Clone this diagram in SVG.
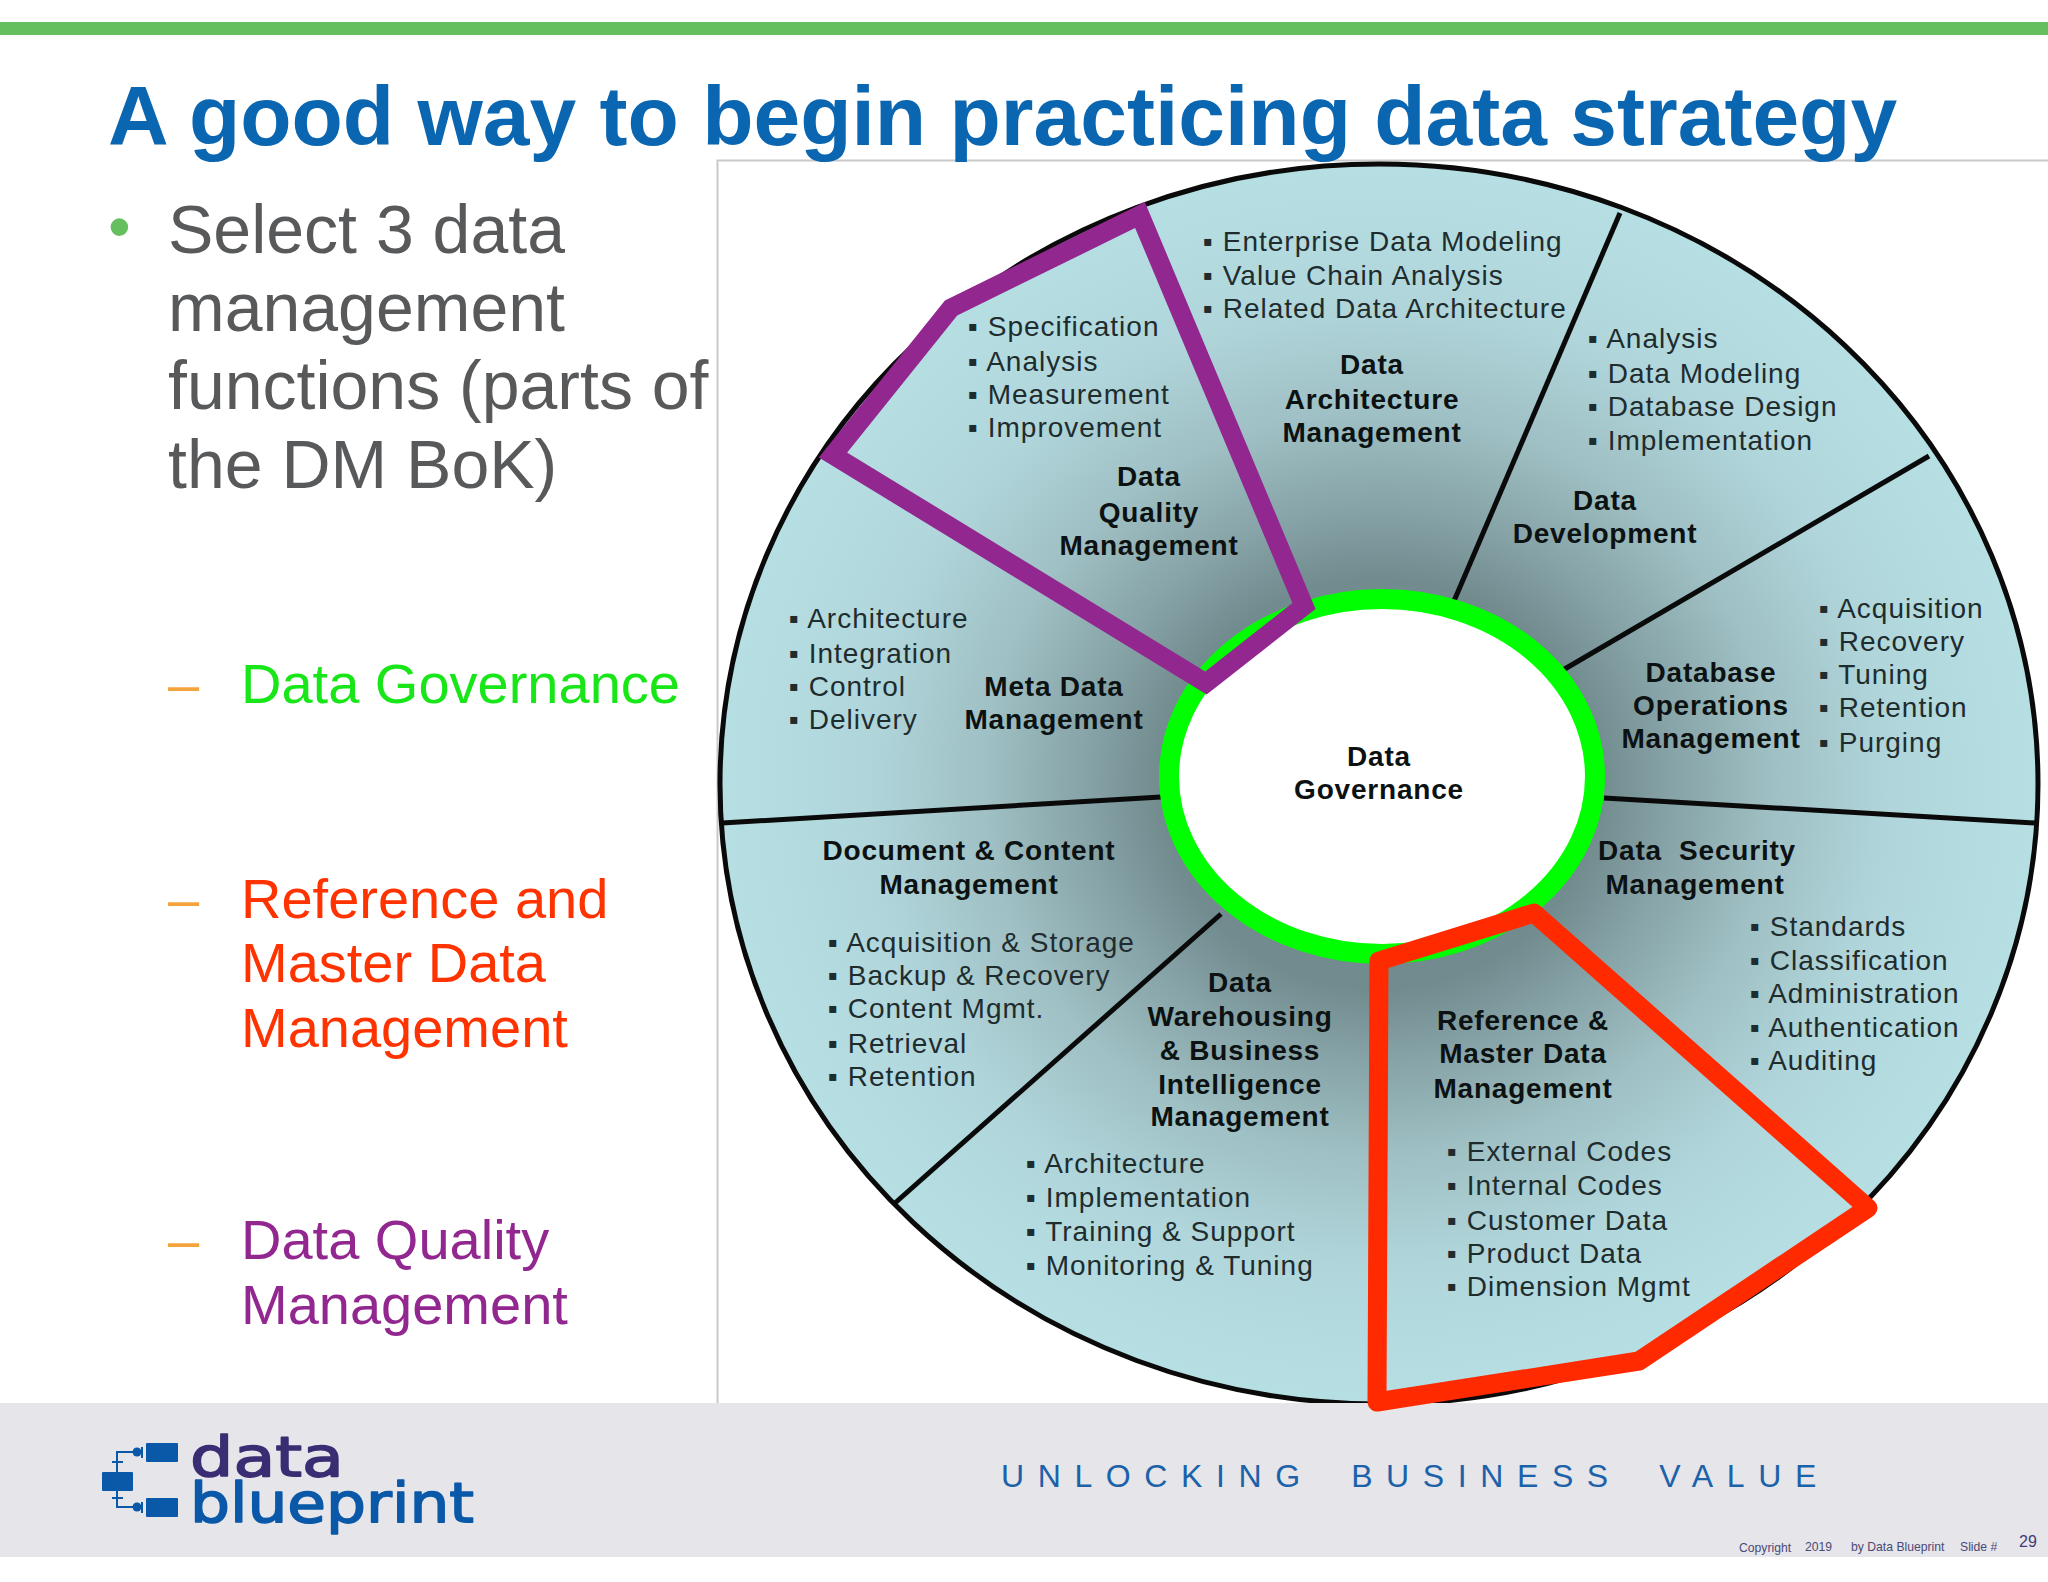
<svg xmlns="http://www.w3.org/2000/svg" width="2048" height="1582" viewBox="0 0 2048 1582">
<style>
text{font-family:"Liberation Sans",Arial,sans-serif}
.t{font-size:28px;fill:#1f2c2e;letter-spacing:1px}
.b{font-size:28px;font-weight:700;fill:#0c1112;text-anchor:middle;letter-spacing:.8px}
.l{font-size:68px;fill:#58595b}
.s{font-size:56px}
.d{font-size:56px;fill:#f5a33c}
.f{font-size:12.2px;fill:#4a4a78}
.div{stroke:#0a0a0a;stroke-width:5;fill:none}
.lg{fill:#0a58a8}
.ll{stroke:#0a58a8;stroke-width:2;fill:none}
.wm{font-family:"DejaVu Sans",sans-serif;font-size:56px;stroke-width:1.6px;stroke-linejoin:round}
</style>
<defs>
<radialGradient id="wheelFill" cx="0.5" cy="0.5" r="0.5" fx="0.5" fy="0.5">
<stop offset="0.33" stop-color="#718b8e"/>
<stop offset="0.45" stop-color="#87a4a8"/>
<stop offset="0.6" stop-color="#9fc0c4"/>
<stop offset="0.78" stop-color="#b0d6db"/>
<stop offset="1" stop-color="#b6dfe4"/>
</radialGradient>
</defs>
<rect width="2048" height="1582" fill="#fff"/>
<rect id="top-bar" x="0" y="22" width="2048" height="13" fill="#66bf5f"/>
<rect id="frame" x="717.5" y="160.5" width="1340" height="1250" fill="#fff" stroke="#c9c9c9" stroke-width="2"/>
<ellipse id="wheel" cx="1379" cy="784" rx="659" ry="620" fill="url(#wheelFill)" stroke="#0a0a0a" stroke-width="5"/>
<g id="connectors">
<line class="div" x1="1620" y1="213" x2="1454" y2="601"/>
<line class="div" x1="1929" y1="456" x2="1563" y2="670"/>
<line class="div" x1="2035" y1="823" x2="1604" y2="798"/>
<line class="div" x1="895" y1="1203" x2="1221" y2="914"/>
<line class="div" x1="722" y1="823" x2="1161" y2="797"/>
</g>
<g id="data-governance">
<ellipse cx="1382" cy="776.5" rx="213" ry="177.5" fill="#fff" stroke="#00ff00" stroke-width="20"/>
<text class="b" x="1379" y="766">Data</text>
<text class="b" x="1379" y="799">Governance</text>
</g>
<g id="data-architecture">
<text class="t" x="1203" y="251">▪ Enterprise Data Modeling</text>
<text class="t" x="1203" y="285">▪ Value Chain Analysis</text>
<text class="t" x="1203" y="318">▪ Related Data Architecture</text>
<text class="b" x="1372" y="374">Data</text>
<text class="b" x="1372" y="409">Architecture</text>
<text class="b" x="1372" y="442">Management</text>
</g>
<g id="data-development">
<text class="t" x="1588" y="348">▪ Analysis</text>
<text class="t" x="1588" y="383">▪ Data Modeling</text>
<text class="t" x="1588" y="416">▪ Database Design</text>
<text class="t" x="1588" y="450">▪ Implementation</text>
<text class="b" x="1605" y="510">Data</text>
<text class="b" x="1605" y="543">Development</text>
</g>
<g id="database-operations">
<text class="t" x="1819" y="618">▪ Acquisition</text>
<text class="t" x="1819" y="651">▪ Recovery</text>
<text class="t" x="1819" y="684">▪ Tuning</text>
<text class="t" x="1819" y="717">▪ Retention</text>
<text class="t" x="1819" y="752">▪ Purging</text>
<text class="b" x="1711" y="682">Database</text>
<text class="b" x="1711" y="715">Operations</text>
<text class="b" x="1711" y="748">Management</text>
</g>
<g id="data-security">
<text class="b" x="1697" y="860" xml:space="preserve">Data  Security</text>
<text class="b" x="1695" y="894">Management</text>
<text class="t" x="1750" y="936">▪ Standards</text>
<text class="t" x="1750" y="970">▪ Classification</text>
<text class="t" x="1750" y="1003">▪ Administration</text>
<text class="t" x="1750" y="1037">▪ Authentication</text>
<text class="t" x="1750" y="1070">▪ Auditing</text>
</g>
<g id="reference-master-data">
<text class="b" x="1523" y="1030">Reference &amp;</text>
<text class="b" x="1523" y="1063">Master Data</text>
<text class="b" x="1523" y="1098">Management</text>
<text class="t" x="1447" y="1161">▪ External Codes</text>
<text class="t" x="1447" y="1195">▪ Internal Codes</text>
<text class="t" x="1447" y="1230">▪ Customer Data</text>
<text class="t" x="1447" y="1263">▪ Product Data</text>
<text class="t" x="1447" y="1296">▪ Dimension Mgmt</text>
</g>
<g id="data-warehousing">
<text class="b" x="1240" y="992">Data</text>
<text class="b" x="1240" y="1026">Warehousing</text>
<text class="b" x="1240" y="1060">&amp; Business</text>
<text class="b" x="1240" y="1094">Intelligence</text>
<text class="b" x="1240" y="1126">Management</text>
<text class="t" x="1026" y="1173">▪ Architecture</text>
<text class="t" x="1026" y="1207">▪ Implementation</text>
<text class="t" x="1026" y="1241">▪ Training &amp; Support</text>
<text class="t" x="1026" y="1275">▪ Monitoring &amp; Tuning</text>
</g>
<g id="document-content">
<text class="b" x="969" y="860">Document &amp; Content</text>
<text class="b" x="969" y="894">Management</text>
<text class="t" x="828" y="952">▪ Acquisition &amp; Storage</text>
<text class="t" x="828" y="985">▪ Backup &amp; Recovery</text>
<text class="t" x="828" y="1018">▪ Content Mgmt.</text>
<text class="t" x="828" y="1053">▪ Retrieval</text>
<text class="t" x="828" y="1086">▪ Retention</text>
</g>
<g id="meta-data">
<text class="t" x="789" y="628">▪ Architecture</text>
<text class="t" x="789" y="663">▪ Integration</text>
<text class="t" x="789" y="696">▪ Control</text>
<text class="t" x="789" y="729">▪ Delivery</text>
<text class="b" x="1054" y="696">Meta Data</text>
<text class="b" x="1054" y="729">Management</text>
</g>
<g id="data-quality">
<text class="t" x="968" y="336">▪ Specification</text>
<text class="t" x="968" y="371">▪ Analysis</text>
<text class="t" x="968" y="404">▪ Measurement</text>
<text class="t" x="968" y="437">▪ Improvement</text>
<text class="b" x="1149" y="486">Data</text>
<text class="b" x="1149" y="522">Quality</text>
<text class="b" x="1149" y="555">Management</text>
</g>
<g id="footer">
<rect x="0" y="1403" width="2048" height="154" fill="#e6e5e9"/>
<text x="1001" y="1487" font-size="32" fill="#1c62aa" letter-spacing="13.6" word-spacing="15">UNLOCKING BUSINESS VALUE</text>
<text class="f" x="1739" y="1552">Copyright</text>
<text class="f" x="1805" y="1551">2019</text>
<text class="f" x="1851" y="1551">by Data Blueprint</text>
<text class="f" x="1960" y="1551">Slide #</text>
<text x="2019" y="1547" font-size="16" fill="#3e3b78">29</text>
</g>
<g id="logo">
<rect class="lg" x="146" y="1443" width="32" height="19" rx="1"/>
<rect class="lg" x="102" y="1472" width="31" height="19" rx="1"/>
<rect class="lg" x="146" y="1498" width="32" height="19" rx="1"/>
<path class="ll" d="M117 1472V1452H142M117 1491V1507H142M112 1462H123M112 1498H123M142 1447V1458M142 1502V1513"/>
<circle class="lg" cx="137" cy="1452" r="4.5"/>
<circle class="lg" cx="137" cy="1507" r="4.5"/>
<text class="wm" x="190" y="1476" fill="#3a2d73" stroke="#3a2d73" textLength="154" lengthAdjust="spacingAndGlyphs">data</text>
<text class="wm" x="190" y="1522" fill="#0a58a8" stroke="#0a58a8" textLength="284" lengthAdjust="spacingAndGlyphs">blueprint</text>
</g>
<g id="title"><text x="108" y="145" font-size="84" font-weight="700" fill="#0a66b0">A good way to begin practicing data strategy</text></g>
<g id="bullets">
<text x="108" y="249" font-size="65" fill="#66bf5f">•</text>
<text class="l" x="168" y="253">Select 3 data</text>
<text class="l" x="168" y="331">management</text>
<text class="l" x="168" y="409">functions (parts of</text>
<text class="l" x="168" y="488">the DM BoK)</text>
<text class="d" x="168" y="703">–</text>
<text class="s" x="241" y="703" fill="#19e619">Data Governance</text>
<text class="d" x="168" y="918">–</text>
<text class="s" x="241" y="918" fill="#ff3300">Reference and</text>
<text class="s" x="241" y="982" fill="#ff3300">Master Data</text>
<text class="s" x="241" y="1047" fill="#ff3300">Management</text>
<text class="d" x="168" y="1259">–</text>
<text class="s" x="241" y="1259" fill="#92278f">Data Quality</text>
<text class="s" x="241" y="1324" fill="#92278f">Management</text>
</g>
<polygon id="purple-outline" points="1140,215 951,308 833,455 1206,683 1304,606" fill="none" stroke="#92278f" stroke-width="19" stroke-linejoin="miter"/>
<polygon id="red-outline" points="1379,961 1534,913 1868,1208 1639,1361 1377,1402" fill="none" stroke="#ff2a00" stroke-width="19" stroke-linejoin="round"/>
</svg>
